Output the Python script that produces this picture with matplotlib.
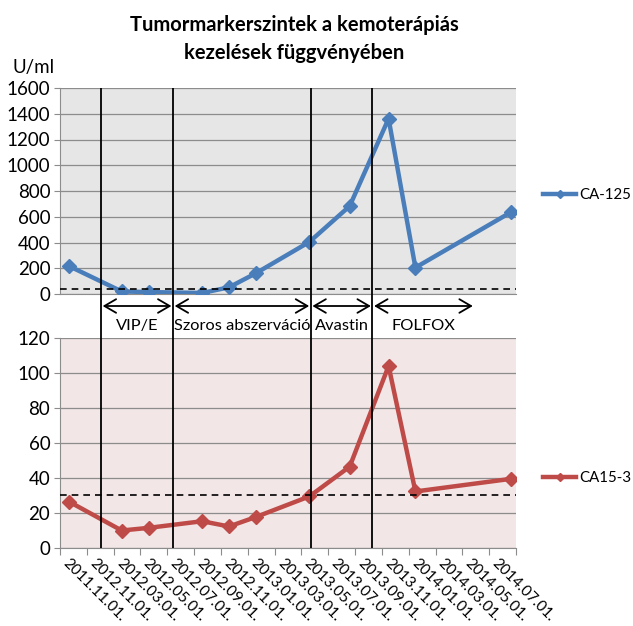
import matplotlib
matplotlib.use("Agg")
import matplotlib.pyplot as plt
from matplotlib.transforms import ScaledTranslation

plt.rcParams['font.family'] = ['Lato', 'DejaVu Sans']

# ---- data ----
# x positions: months since 2011.11.01 (date axis)
months = [0.67, 4.6, 6.6, 10.6, 12.6, 14.6, 18.6, 21.6, 24.5, 26.5, 33.6]
ca125 = [217, 20, 15, 8, 52, 161, 405, 683, 1362, 205, 634]
ca153 = [26.5, 10, 11.5, 15.3, 12.3, 17.7, 29.5, 46.5, 104, 32.3, 39.5]
ca125_cutoff = 35
ca153_cutoff = 30.5

tick_labels = ['2011.11.01.', '2012.11.01.', '2012.03.01.', '2012.05.01.', '2012.07.01.',
               '2012.09.01.', '2012.11.01.', '2013.01.01.', '2013.03.01.', '2013.05.01.',
               '2013.07.01.', '2013.09.01.', '2013.11.01.', '2014.01.01.', '2014.03.01.',
               '2014.05.01.', '2014.07.01.']
tick_months = list(range(0, 36, 2))  # 18 ticks, last unlabeled

phase_bounds = [3.06, 8.43, 18.7, 23.3, 30.9]
phase_names = ['VIP/E', 'Szoros abszerváció', 'Avastin', 'FOLFOX']
vlines = [3.06, 8.43, 18.7, 23.3]

title = 'Tumormarkerszintek a kemoterápiás\nkezelések függvényében'

# ---- layout ----
W, H = 633, 626
fig = plt.figure(figsize=(W / 100, H / 100), dpi=100)

def rect(x0, y0, x1, y1):
    return [x0 / W, 1 - y1 / H, (x1 - x0) / W, (y1 - y0) / H]

blue = '#4a7ebb'
red = '#be4b48'
grid_c = '#8c8c8c'
XMIN, XMAX = 0, 34

ax1 = fig.add_axes(rect(60, 88, 516, 294))
ax2 = fig.add_axes(rect(60, 338, 516, 548))

for ax, bg in ((ax1, '#e6e6e6'), (ax2, '#f2e6e6')):
    ax.set_facecolor(bg)
    ax.set_xlim(XMIN, XMAX)
    for s in ('top', 'right'):
        ax.spines[s].set_visible(False)
    ax.spines['left'].set_color(grid_c)
    ax.spines['bottom'].set_color(grid_c)
    ax.grid(axis='y', color=grid_c, lw=0.9)
    ax.set_axisbelow(True)
    ax.tick_params(axis='y', length=4, color=grid_c, labelsize=13.5, pad=3)

# top panel
ax1.set_ylim(0, 1600)
ax1.set_yticks(range(0, 1601, 200))
ax1.set_xticks([])
l1, = ax1.plot(months, ca125, color=blue, lw=3.2, marker='D', ms=7.5, label='CA-125', zorder=3)
ax1.axhline(ca125_cutoff, color='black', ls=(0, (4, 3)), lw=1.2, zorder=4)
fig.text(13 / W, 1 - 68 / H, 'U/ml', fontsize=13.5, va='center', ha='left')

# bottom panel
ax2.set_ylim(0, 120)
ax2.set_yticks(range(0, 121, 20))
ax2.set_xticks(tick_months)
ax2.set_xticklabels(tick_labels + [''], rotation=-45, ha='left', va='top',
                    rotation_mode='anchor', fontsize=11)
ax2.tick_params(axis='x', length=5, color=grid_c, pad=2)
shift = ScaledTranslation(10 / 100, 2 / 100, fig.dpi_scale_trans)
for lab in ax2.get_xticklabels():
    lab.set_transform(lab.get_transform() + shift)
l2, = ax2.plot(months, ca153, color=red, lw=3.2, marker='D', ms=7.5, label='CA15-3', zorder=3)
ax2.axhline(ca153_cutoff, color='black', ls=(0, (4, 3)), lw=1.2, zorder=4)

# overlay for phase lines, arrows, labels
ov = fig.add_axes(rect(60, 88, 516, 548))
ov.set_xlim(XMIN, XMAX)
ov.set_ylim(548, 88)
ov.axis('off')
ov.patch.set_alpha(0)
for v in vlines:
    ov.plot([v, v], [88, 548], color='black', lw=1.3, zorder=5)
for a, b, name in zip(phase_bounds[:-1], phase_bounds[1:], phase_names):
    ov.annotate('', xy=(b - 0.12, 306), xytext=(a + 0.12, 306),
                arrowprops=dict(arrowstyle='<->,head_length=0.6,head_width=0.35',
                                color='black', lw=1.3,
                                mutation_scale=14, shrinkA=0, shrinkB=0))
    ov.text((a + b) / 2, 326, name, ha='center', va='center', fontsize=11.8)

# title
fig.text(294 / W, 1 - 39 / H, title, ha='center', va='center', fontsize=14.5,
         fontweight='bold', linespacing=1.5)

# legends
for ax, line, yc in ((ax1, l1, 195), (ax2, l2, 478)):
    ax.legend(handles=[line], loc='center left', bbox_to_anchor=(543 / W, 1 - yc / H),
              bbox_transform=fig.transFigure, frameon=False, fontsize=10.8,
              handlelength=2.2, handletextpad=0.2, markerscale=0.5, borderpad=0,
              borderaxespad=0)

fig.savefig('out.png', dpi=100)
